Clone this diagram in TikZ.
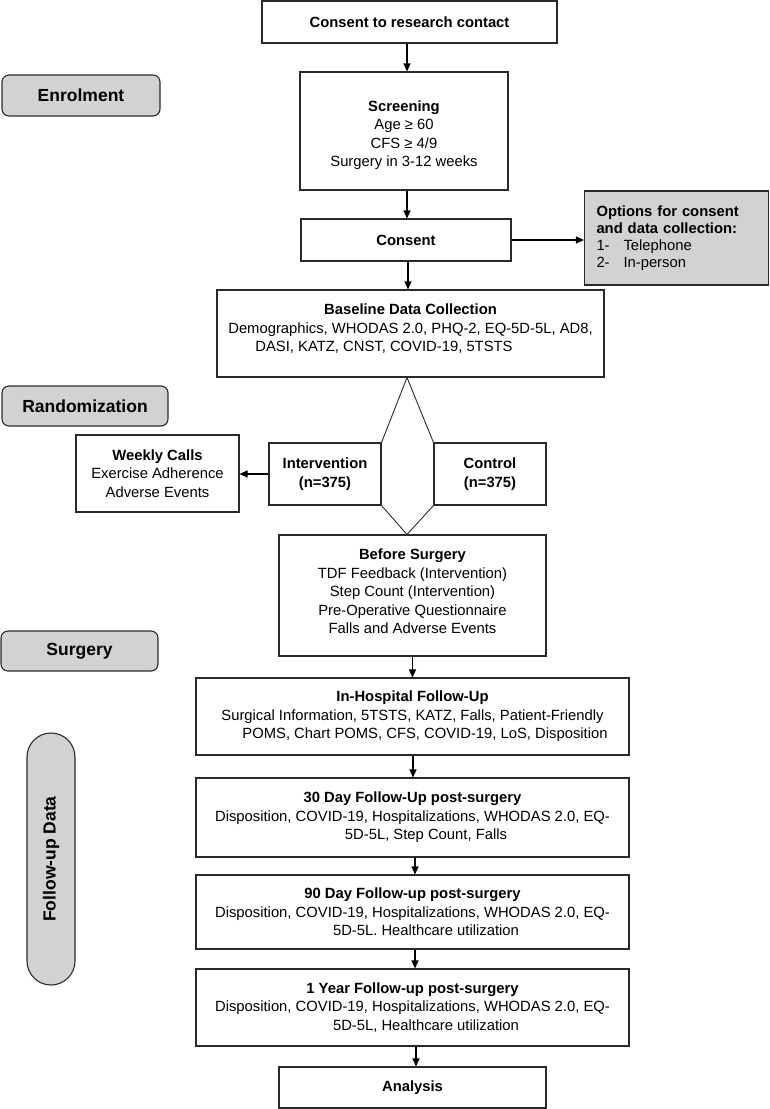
\documentclass[tikz,border=0pt]{standalone}
\usepackage{fontspec}
\setmainfont{Liberation Sans}
\usetikzlibrary{arrows.meta}
\definecolor{pillgray}{HTML}{D2D2D2}
\definecolor{edge}{HTML}{2A2A2A}
\begin{document}
\begin{tikzpicture}[x=1pt,y=-1pt,
  box/.style={draw=edge, line width=1.1pt, fill=white, inner sep=0pt, align=center,
    font=\fontsize{14.8}{18.5}\selectfont},
  graybox/.style={box, fill=pillgray},
  pill/.style={draw=edge, line width=1.1pt, fill=pillgray, rounded corners=7pt, inner sep=0pt,
    font=\fontsize{17.5}{20}\selectfont\bfseries},
  arr/.style={draw=black, line width=1.1pt, -{Triangle[length=8pt,width=7pt]}},
  diam/.style={draw=edge, line width=0.9pt}]
\useasboundingbox (0,0) rectangle (769,1109);
\coordinate (spine) at (407,0);

% phase labels
\node[pill, minimum width=158pt, minimum height=41pt] (enr) at (81,95.5) {Enrolment};
\node[pill, minimum width=166pt, minimum height=40pt] (rand) at (85,406) {Randomization};
\node[pill, minimum width=157pt, minimum height=40pt] (surg) at (79.5,651) {Surgery};
\node[pill, rotate=90, rounded corners=24pt, minimum width=252pt, minimum height=48pt] (fud) at (51,859) {Follow-up Data};

% main boxes
\node[box, minimum width=295pt, minimum height=42pt] (crc) at (409.5,22) {\textbf{Consent to research contact}};
\node[box, minimum width=208pt, minimum height=118pt] (scr) at (404,131)
  {\rule{0pt}{19pt}\textbf{Screening}\\Age ≥ 60\\CFS ≥ 4/9\\Surgery in 3-12 weeks};
\node[box, minimum width=210pt, minimum height=42pt] (con) at (406,240) {\textbf{Consent}};
\node[graybox, minimum width=184pt, minimum height=94pt, text width=160pt, align=left,
  font=\fontsize{14.8}{17}\selectfont] (opt) at (676.5,238)
  {\textbf{Options for consent}\\\textbf{and data collection:}\\\makebox[27pt][l]{1-}Telephone\\\makebox[27pt][l]{2-}In-person};
\node[box, minimum width=387pt, minimum height=87pt] (base) at (410.5,333.5)
  {\textbf{Baseline Data Collection}\\Demographics, WHODAS 2.0, PHQ-2, EQ-5D-5L, AD8,\\DASI, KATZ, CNST, COVID-19, 5TSTS\hspace*{53pt}\rule[-11pt]{0pt}{0pt}};
\node[box, minimum width=112pt, minimum height=62pt] (int) at (325,474) {\textbf{Intervention}\\\textbf{(n=375)}};
\node[box, minimum width=112pt, minimum height=62pt] (ctl) at (490,474) {\textbf{Control}\\\textbf{(n=375)}};
\node[box, minimum width=163pt, minimum height=77pt] (wk) at (157.5,473.5)
  {\textbf{Weekly Calls}\\Exercise Adherence\\Adverse Events};
\node[box, minimum width=267pt, minimum height=121pt] (bs) at (412.5,595.5)
  {\textbf{Before Surgery}\\TDF Feedback (Intervention)\\Step Count (Intervention)\\Pre-Operative Questionnaire\\Falls and Adverse Events\rule[-8pt]{0pt}{0pt}};
\node[box, minimum width=433pt, minimum height=77pt] (ih) at (412.5,716.5)
  {\textbf{In-Hospital Follow-Up}\\Surgical Information, 5TSTS, KATZ, Falls, Patient-Friendly\\\hspace*{25pt}POMS, Chart POMS, CFS, COVID-19, LoS, Disposition};
\node[box, minimum width=433pt, minimum height=79pt] (d30) at (412.5,817.5)
  {\textbf{30 Day Follow-Up post-surgery}\\Disposition, COVID-19, Hospitalizations, WHODAS 2.0, EQ-\\\hspace*{27pt}5D-5L, Step Count, Falls};
\node[box, minimum width=433pt, minimum height=74pt] (d90) at (412.5,912)
  {\textbf{90 Day Follow-up post-surgery}\\Disposition, COVID-19, Hospitalizations, WHODAS 2.0, EQ-\\\hspace*{27pt}5D-5L. Healthcare utilization};
\node[box, minimum width=433pt, minimum height=77pt] (y1) at (412.5,1007.5)
  {\textbf{1 Year Follow-up post-surgery}\\Disposition, COVID-19, Hospitalizations, WHODAS 2.0, EQ-\\\hspace*{27pt}5D-5L, Healthcare utilization};
\node[box, minimum width=267pt, minimum height=41pt] (ana) at (412.5,1087.5) {\textbf{Analysis}};

% connectors
\draw[arr] (crc.south -| spine) -- (scr.north -| spine);
\draw[arr] (scr.south -| spine) -- (con.north -| spine);
\draw[arr] (con.east) -- (opt.west |- con.east);
\draw[arr] ([xshift=1pt]con.south -| spine) -- ([xshift=1pt]base.north -| spine);

% randomisation split
\coordinate (dtop) at (base.south -| spine);
\coordinate (dbot) at (bs.north -| spine);
\draw[diam] (int.north east) -- (dtop) -- (ctl.north west);
\draw[diam] (int.south east) -- (dbot) -- (ctl.south west);
\draw[arr] (int.west) -- (wk.east |- int.west);

\draw[arr] (bs.south) -- (ih.north);
\draw[arr] ([xshift=0.5pt]ih.south) -- ([xshift=0.5pt]d30.north);
\draw[arr] ([xshift=2.5pt]d30.south) -- ([xshift=2.5pt]d90.north);
\draw[arr] ([xshift=2.5pt]d90.south) -- ([xshift=2.5pt]y1.north);
\draw[arr] ([xshift=3.5pt]y1.south) -- ([xshift=3.5pt]ana.north);
\end{tikzpicture}
\end{document}
